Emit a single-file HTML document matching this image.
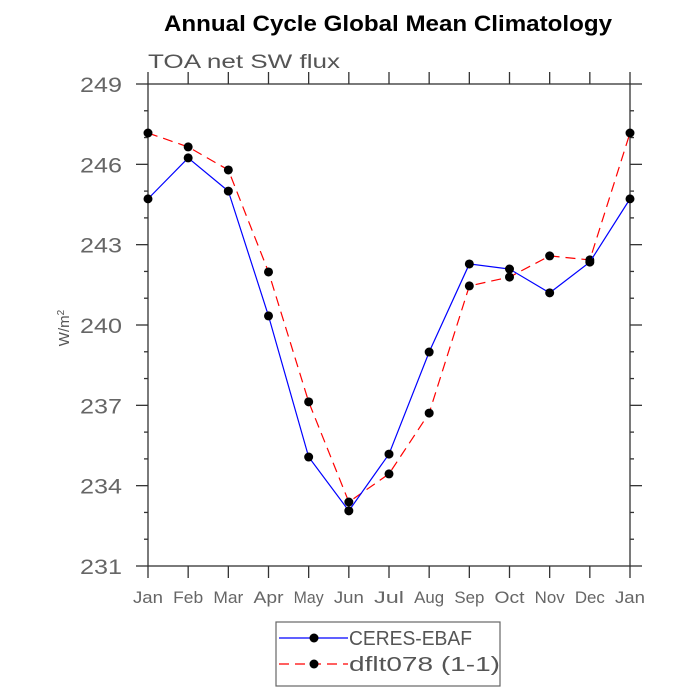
<!DOCTYPE html>
<html><head><meta charset="utf-8"><style>
html,body{margin:0;padding:0;background:#fff;width:700px;height:700px;overflow:hidden}
svg{display:block;font-family:"Liberation Sans",sans-serif}
</style></head><body>
<svg id="chart" width="700" height="700"></svg>
<script>
const months = ["Jan","Feb","Mar","Apr","May","Jun","Jul","Aug","Sep","Oct","Nov","Dec","Jan"];
const ceres = [244.71,246.24,245.0,240.34,235.07,233.06,235.18,238.99,242.28,242.09,241.2,242.35,244.71];
const dflt = [247.17,246.65,245.79,241.98,237.13,233.39,234.44,236.71,241.46,241.79,242.58,242.43,247.17];
const yTicks = [231,234,237,240,243,246,249];

const NS="http://www.w3.org/2000/svg";
const svg=document.getElementById('chart');
const L=148,R=630,T=84,B=566,ymin=231,ymax=249;
const x=i=>L+i*(R-L)/(months.length-1);
const y=v=>B-(v-ymin)*(B-T)/(ymax-ymin);
function el(tag,attrs,parent){const e=document.createElementNS(NS,tag);for(const k in attrs)e.setAttribute(k,attrs[k]);(parent||svg).appendChild(e);return e;}
const ax='#333';
let t=el('text',{x:164,y:31,'font-size':22,'font-weight':'bold',fill:'#000',textLength:448,lengthAdjust:'spacingAndGlyphs'});t.textContent='Annual Cycle Global Mean Climatology';


t=el('text',{x:148,y:68,'font-size':19,fill:'#555',textLength:192,lengthAdjust:'spacingAndGlyphs'});t.textContent='TOA net SW flux';


t=el('text',{x:0,y:0,'font-size':15,fill:'#555','text-anchor':'middle',transform:'translate(69,328) rotate(-90)'});
t.innerHTML='W/m<tspan dy="-5" font-size="10">2</tspan>';


const frame=el('rect',{x:L,y:T,width:R-L,height:B-T,fill:'none',stroke:ax,'stroke-width':1.3});


for(let v=ymin;v<=ymax;v++){
  const major=yTicks.includes(v);const len=major?12:4;
  el('line',{x1:L-len,x2:L,y1:y(v),y2:y(v),stroke:ax,'stroke-width':1.3});
  el('line',{x1:R,x2:R+len,y1:y(v),y2:y(v),stroke:ax,'stroke-width':1.3});
}
yTicks.forEach(v=>{const tt=el('text',{x:80,y:y(v)+8,'font-size':21,fill:'#666',textLength:42,lengthAdjust:'spacingAndGlyphs'});tt.textContent=v;

});
months.forEach((m,i)=>{
  el('line',{x1:x(i),x2:x(i),y1:B,y2:B+12,stroke:ax,'stroke-width':1.3});
  el('line',{x1:x(i),x2:x(i),y1:T-12,y2:T,stroke:ax,'stroke-width':1.3});
  const tt=el('text',{x:x(i)-15,y:603,'font-size':17,fill:'#666',textLength:30,lengthAdjust:'spacingAndGlyphs'});tt.textContent=m;
  
  
});
function series(vals,color,dash,name){
  const g=el('g',{});
  
  
  el('polyline',{points:vals.map((v,i)=>x(i)+','+y(v)).join(' '),fill:'none',stroke:color,'stroke-width':1.2,'stroke-dasharray':dash||'none'},g);
  vals.forEach((v,i)=>{const c=el('circle',{cx:x(i),cy:y(v),r:4.5,fill:'#000'},g);
  
  });
}
series(dflt,'#f00','10,6','series-dflt078');
series(ceres,'#00f',null,'series-ceres-ebaf');
const lg=el('g',{});


el('rect',{x:276,y:622,width:224,height:64,fill:'#fff',stroke:'#666','stroke-width':1.2},lg);
el('line',{x1:279,x2:348,y1:638,y2:638,stroke:'#00f','stroke-width':1.2},lg);
el('circle',{cx:314,cy:638,r:4.5,fill:'#000'},lg);
el('line',{x1:279,x2:348,y1:664,y2:664,stroke:'#f00','stroke-width':1.2,'stroke-dasharray':'10,6'},lg);
el('circle',{cx:314,cy:664,r:4.5,fill:'#000'},lg);
t=el('text',{x:349,y:645,'font-size':20,fill:'#555',textLength:123,lengthAdjust:'spacingAndGlyphs'},lg);t.textContent='CERES-EBAF';


t=el('text',{x:349,y:671,'font-size':20,fill:'#555',textLength:151,lengthAdjust:'spacingAndGlyphs'},lg);t.textContent='dflt078 (1-1)';


</script>
</body></html>
